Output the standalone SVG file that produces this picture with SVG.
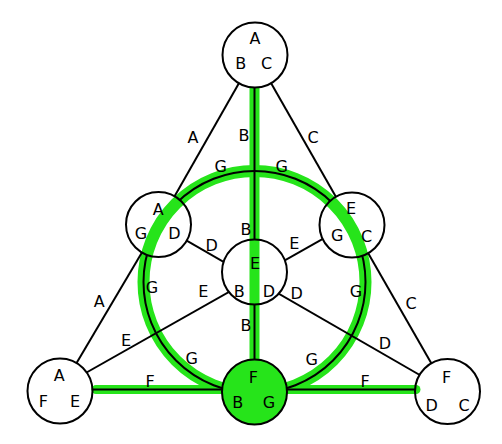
<svg xmlns="http://www.w3.org/2000/svg" width="502" height="444" viewBox="0 0 502 444">
<style>
text{font-family:"DejaVu Sans","Liberation Sans",sans-serif;font-size:16px;text-anchor:middle;fill:#000}
.e{stroke:#000;stroke-width:2;fill:none}
.hl{stroke:#26e41a;fill:none}
.n{fill:none;stroke:#000;stroke-width:2}
</style>
<defs>
<mask id="m" maskUnits="userSpaceOnUse" x="0" y="0" width="502" height="444">
<rect width="502" height="444" fill="#fff"/>
<g fill="#000">
<circle cx="255" cy="55" r="32.5"/>
<circle cx="158.5" cy="224.5" r="32.5"/>
<circle cx="352" cy="225" r="32.5"/>
<circle cx="254.5" cy="272" r="32.5"/>
<circle cx="60" cy="391" r="32.5"/>
<circle cx="447.5" cy="391.5" r="32.5"/>
<circle cx="254.5" cy="392" r="32.5"/>
</g>
</mask>
</defs>
<rect width="502" height="444" fill="#fff"/>
<g id="highlights">
<circle class="hl" cx="254.5" cy="282" r="111" stroke-width="12"/>
<line class="hl" x1="254.5" y1="87.5" x2="254.5" y2="392" stroke-width="10"/>
<line class="hl" x1="96" y1="389.5" x2="416" y2="389.5" stroke-width="9" stroke-linecap="round"/>
</g>
<g id="connectors" mask="url(#m)">
<line class="e" x1="255" y1="55" x2="158.5" y2="224.5"/>
<line class="e" x1="158.5" y1="224.5" x2="60" y2="391"/>
<line class="e" x1="255" y1="55" x2="352" y2="225"/>
<line class="e" x1="352" y1="225" x2="447.5" y2="391.5"/>
<line class="e" x1="60" y1="389.5" x2="447.5" y2="389.5"/>
<line class="e" x1="254.5" y1="55" x2="254.5" y2="392"/>
<line class="e" x1="158.5" y1="224.4" x2="447.5" y2="391"/>
<line class="e" x1="352" y1="222.3" x2="60" y2="387.5"/>
<circle class="e" cx="254.5" cy="282" r="111"/>
</g>
<g id="edge-labels">
<text x="193" y="143">A</text>
<text x="99.3" y="307">A</text>
<text x="313" y="143">C</text>
<text x="411" y="309">C</text>
<text x="244" y="141">B</text>
<text x="246" y="235">B</text>
<text x="246" y="331">B</text>
<text x="220.7" y="172">G</text>
<text x="281.7" y="172">G</text>
<text x="152" y="293">G</text>
<text x="356" y="296.7">G</text>
<text x="191.7" y="364.3">G</text>
<text x="311.7" y="365.3">G</text>
<text x="294.3" y="249.3">E</text>
<text x="203.3" y="297">E</text>
<text x="126" y="346">E</text>
<text x="211.7" y="251">D</text>
<text x="296.7" y="299.3">D</text>
<text x="385" y="348.7">D</text>
<text x="150" y="387">F</text>
<text x="365" y="387">F</text>
</g>
<g id="node-top">
<circle class="n" cx="255" cy="55" r="32.5"/>
<text x="255" y="44.3">A</text>
<text x="240.7" y="69.3">B</text>
<text x="266.7" y="69.3">C</text>
</g>
<g id="node-left">
<circle class="n" cx="158.5" cy="224.5" r="32.5"/>
<text x="158.3" y="215.3">A</text>
<text x="141" y="238.7">G</text>
<text x="174.3" y="238.7">D</text>
</g>
<g id="node-right">
<circle class="n" cx="352" cy="225" r="32.5"/>
<text x="351" y="214.3">E</text>
<text x="337.3" y="241">G</text>
<text x="366.7" y="242">C</text>
</g>
<g id="node-center">
<circle class="n" cx="254.5" cy="272" r="32.5"/>
<text x="255" y="269.3">E</text>
<text x="239.3" y="297">B</text>
<text x="269" y="297">D</text>
</g>
<g id="node-bottom-left">
<circle class="n" cx="60" cy="391" r="32.5"/>
<text x="59.3" y="381">A</text>
<text x="43.3" y="407">F</text>
<text x="75" y="407">E</text>
</g>
<g id="node-bottom-right">
<circle class="n" cx="447.5" cy="391.5" r="32.5"/>
<text x="446.7" y="382.7">F</text>
<text x="431.7" y="411">D</text>
<text x="464" y="411">C</text>
</g>
<g id="node-bottom">
<circle class="n" cx="254.5" cy="392" r="32.5" fill="#26e41a" style="fill:#26e41a"/>
<text x="253.3" y="382.7">F</text>
<text x="237.7" y="407.7">B</text>
<text x="269" y="407.7">G</text>
</g>
</svg>
